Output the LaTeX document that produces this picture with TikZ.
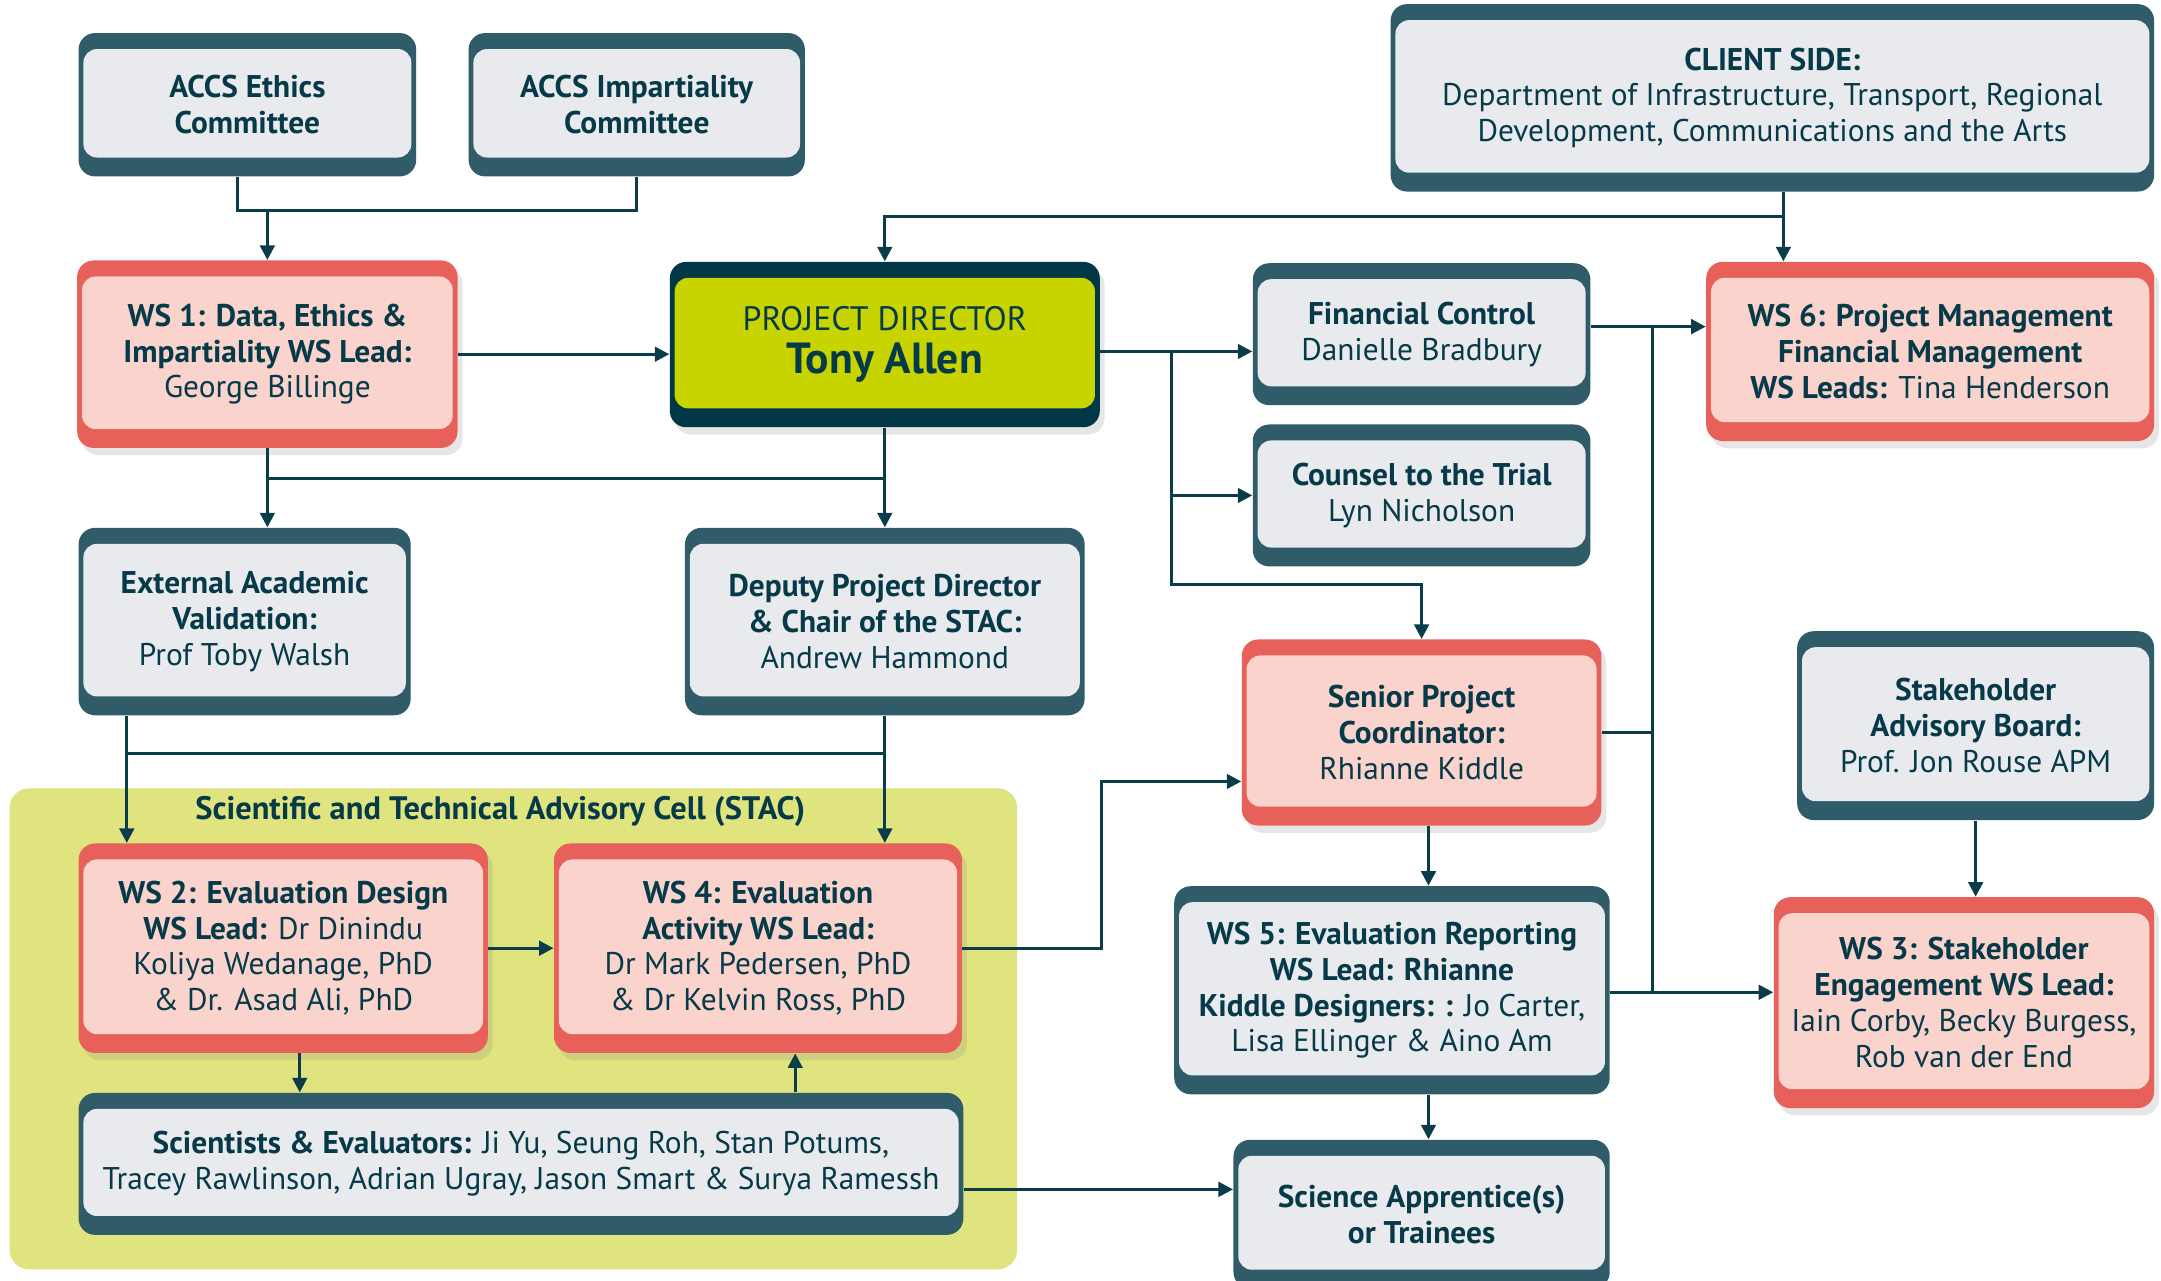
\documentclass[tikz,border=0pt]{standalone}
\usepackage{fontspec}
\setmainfont{PT Sans}
\usetikzlibrary{arrows.meta,shadows}

\definecolor{inkteal}{HTML}{063A49}
\definecolor{wireteal}{HTML}{0B3C4A}
\definecolor{rimteal}{HTML}{2F5C68}
\definecolor{greyfill}{HTML}{E9EAEE}
\definecolor{rimred}{HTML}{E8605A}
\definecolor{pinkfill}{HTML}{F9D3CC}
\definecolor{rimdark}{HTML}{013746}
\definecolor{limefill}{HTML}{C8D400}
\definecolor{stacfill}{HTML}{DFE47F}

\tikzset{
  boxsize/.style 2 args={minimum width=#1*0.02cm, minimum height=#2*0.02cm},
  box/.style={rounded corners=6.8pt, inner sep=0pt, align=center, text=inkteal,
    font=\fontsize{12.95}{14.8}\selectfont},
  inner/.style={path picture={\fill[#1, rounded corners=5.6pt]
    ([xshift=2pt,yshift=-6.6pt]path picture bounding box.north west) rectangle
    ([xshift=-2pt,yshift=7.8pt]path picture bounding box.south east);}},
  greybox/.style={box, fill=rimteal, inner=greyfill},
  redbox/.style={box, fill=rimred, inner=pinkfill,
    drop shadow={opacity=0.2, shadow xshift=2pt, shadow yshift=-3pt}},
  headbox/.style={box, fill=rimdark, inner=limefill,
    drop shadow={opacity=0.2, shadow xshift=2pt, shadow yshift=-3pt}},
  wire/.style={draw=wireteal, line width=1.25pt},
  feed/.style={wire, -{Triangle[length=6pt,width=6pt]}}
}

\begin{document}
\begin{tikzpicture}[x=0.02cm, y=-0.02cm]
\useasboundingbox (0,0) rectangle (1568,929);

% STAC cell
\fill[stacfill, rounded corners=8pt] (7,572) rectangle (738,921);
\node[text=inkteal, font=\fontsize{13.4}{15}\selectfont\bfseries] (stactitle) at (363,589)
  {Scientific and Technical Advisory Cell (STAC)};

% top row
\node[greybox, boxsize={245}{104}] (ethics) at (179.5,76) {\textbf{ACCS Ethics}\\\textbf{Committee}};
\node[greybox, boxsize={244}{104}] (impart) at (462,76) {\textbf{ACCS Impartiality}\\\textbf{Committee}};
\node[greybox, boxsize={554}{136}] (client) at (1286,71)
  {\textbf{CLIENT SIDE:}\\Department of Infrastructure, Transport, Regional\\Development, Communications and the Arts};

% second row
\node[redbox, boxsize={276}{136}] (ws1) at (194,257)
  {\textbf{WS 1: Data, Ethics \&}\\\textbf{Impartiality WS Lead:}\\George Billinge};
\node[headbox, boxsize={312}{120}] (director) at (642,250)
  {{\fontsize{14}{15}\selectfont PROJECT DIRECTOR}\\[3pt]{\fontsize{18}{21}\selectfont\bfseries Tony Allen}};
\node[greybox, boxsize={245}{103}] (fin) at (1031.5,242.5) {\textbf{Financial Control}\\Danielle Bradbury};
\node[redbox, boxsize={325}{130}] (ws6) at (1400.5,255)
  {\textbf{WS 6: Project Management}\\\textbf{Financial Management}\\\textbf{WS Leads:} Tina Henderson};
\node[greybox, boxsize={245}{103}] (counsel) at (1031.5,359.5) {\textbf{Counsel to the Trial}\\Lyn Nicholson};

% third row
\node[greybox, boxsize={241}{136}] (external) at (177.5,451)
  {\textbf{External Academic}\\\textbf{Validation:}\\Prof Toby Walsh};
\node[greybox, boxsize={290}{136}] (deputy) at (642,451)
  {\textbf{Deputy Project Director}\\\textbf{\& Chair of the STAC:}\\Andrew Hammond};
\node[redbox, boxsize={261}{135}] (senior) at (1031.5,531.5)
  {\textbf{Senior Project}\\\textbf{Coordinator:}\\Rhianne Kiddle};
\node[greybox, boxsize={259}{137}] (board) at (1433.5,526.5)
  {\textbf{Stakeholder}\\\textbf{Advisory Board:}\\Prof. Jon Rouse APM};

% STAC boxes
\node[redbox, boxsize={297}{152}] (ws2) at (205.5,688)
  {\textbf{WS 2: Evaluation Design}\\\textbf{WS Lead:} Dr Dinindu\\Koliya Wedanage, PhD\\\& Dr. Asad Ali, PhD};
\node[redbox, boxsize={296}{152}] (ws4) at (550,688)
  {\textbf{WS 4: Evaluation}\\\textbf{Activity WS Lead:}\\Dr Mark Pedersen, PhD\\\& Dr Kelvin Ross, PhD};
\node[greybox, boxsize={642}{103}] (scientists) at (378,844.5)
  {\textbf{Scientists \& Evaluators:} Ji Yu, Seung Roh, Stan Potums,\\Tracey Rawlinson, Adrian Ugray, Jason Smart \& Surya Ramessh};

% lower right
\node[greybox, boxsize={316}{151}] (ws5) at (1010,718.5)
  {\textbf{WS 5: Evaluation Reporting}\\\textbf{WS Lead: Rhianne}\\\textbf{Kiddle Designers: :} Jo Carter,\\Lisa Ellinger \& Aino Am};
\node[redbox, boxsize={276}{153}] (ws3) at (1425,727.5)
  {\textbf{WS 3: Stakeholder}\\\textbf{Engagement WS Lead:}\\Iain Corby, Becky Burgess,\\Rob van der End};
\node[greybox, boxsize={273}{108}] (apprentice) at (1031.5,881)
  {\textbf{Science Apprentice(s)}\\\textbf{or Trainees}};

% junctions
\coordinate (accsjoin) at (194,153);
\coordinate (clientjoin) at (1294,157);
\coordinate (dirsplit) at (850,255);
\coordinate (coordturn) at (850,424);
\coordinate (bustop) at (1199,237);
\coordinate (busbot) at (1199,720);
\coordinate (dirbus) at (642,347);
\coordinate (extbus) at (92,547);
\coordinate (ws4bend) at (799,567);
\coordinate (scitrain) at (699,863);

% connectors
\draw[wire] ([xshift=-0.14cm]ethics.south) |- (accsjoin) -| (impart.south);
\draw[feed] (accsjoin) -- (ws1.north);
\draw[wire] (clientjoin |- client.south) -- (clientjoin);
\draw[feed] (clientjoin) -| (director.north);
\draw[feed] (clientjoin) -- (clientjoin |- ws6.north);
\draw[feed] (ws1.east) -- (ws1.east -| director.west);
\draw[feed] (director.east |- dirsplit) -- (fin.west |- dirsplit);
\draw[feed] (dirsplit) |- (counsel.west);
\draw[feed] (dirsplit) -- (coordturn) -| (senior.north);
\draw[feed] (fin.east |- bustop) -- (ws6.west |- bustop);
\draw[wire] (bustop) -- (busbot);
\draw[wire] (senior.east) -- (senior.east -| bustop);
\draw[feed] (ws5.east |- busbot) -- (ws3.west |- busbot);
\draw[feed] (director.south) -- (deputy.north);
\draw[feed] (ws1.south) -- (ws1.south |- external.north);
\draw[wire] (ws1.south |- dirbus) -- (dirbus);
\draw[feed] (extbus |- external.south) -- (extbus |- ws2.north);
\draw[wire] (extbus) -- (extbus -| deputy.south);
\draw[feed] (deputy.south) -- (deputy.south |- ws4.north);
\draw[feed] (ws2.east) -- (ws2.east -| ws4.west);
\draw[feed] ([xshift=0.24cm]ws2.south) -- ([xshift=0.24cm]ws2.south |- scientists.north);
\draw[feed] ([xshift=0.54cm]ws4.south |- scientists.north) -- ([xshift=0.54cm]ws4.south);
\draw[feed] (ws4.east) -| (ws4bend) -- (ws4bend -| senior.west);
\draw[feed] ([xshift=0.1cm]senior.south) -- ([xshift=0.1cm]senior.south |- ws5.north);
\draw[feed] ([xshift=0.1cm]apprentice.north |- ws5.south) -- ([xshift=0.1cm]apprentice.north);
\draw[feed] (scientists.east |- scitrain) -- (scitrain -| apprentice.west);
\draw[feed] (board.south) -- (board.south |- ws3.north);
\end{tikzpicture}
\end{document}
